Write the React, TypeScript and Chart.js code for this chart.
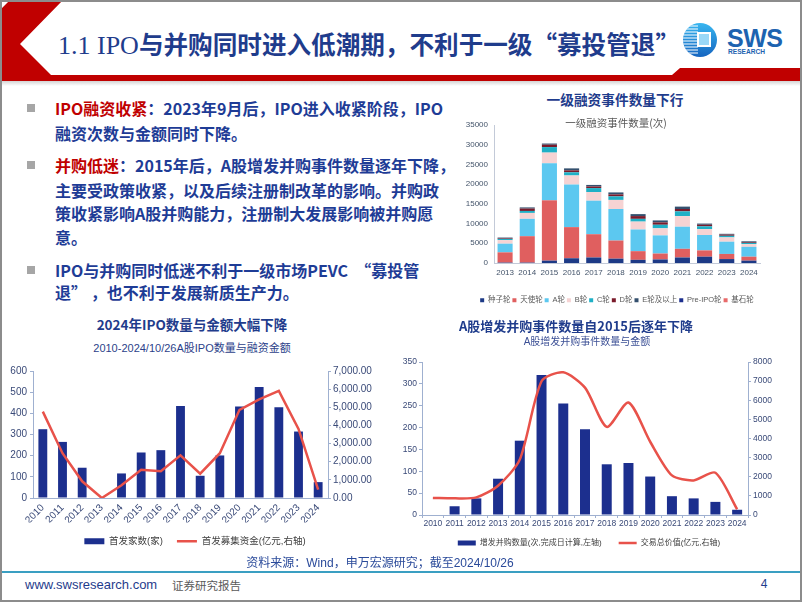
import React, { useEffect, useRef } from 'react';
import { Chart, registerables } from 'chart.js';

Chart.register(...registerables);

const SANS = "'Liberation Sans', 'Noto Sans CJK SC', sans-serif";
const CJK = "'Noto Sans CJK SC', 'Liberation Sans', sans-serif";
const NAVY = '#1c2f8e';
const RED_LINE = '#e8524a';
const TEXT_BLUE = '#1f3c8c';
const AXIS = '#9fb0d0';

// ---------- Chart 1: 一级融资事件数量(次) ----------
const vcYears = ['2013', '2014', '2015', '2016', '2017', '2018', '2019', '2020', '2021', '2022', '2023', '2024'];
const seedRound = [100, 100, 600, 1200, 1400, 1100, 800, 900, 1400, 1600, 1000, 600];
const angelRound = [2600, 6700, 15300, 7900, 5900, 4600, 2200, 1500, 2200, 1600, 1300, 1000];
const roundA = [2200, 4400, 9400, 10800, 8500, 8000, 5500, 4600, 5600, 3900, 3100, 2500];
const roundB = [900, 1500, 2700, 2300, 2200, 2300, 2000, 1800, 2700, 1500, 1100, 700];
const roundC = [300, 500, 1400, 800, 1000, 900, 700, 900, 1200, 700, 400, 300];
const roundD = [150, 600, 600, 500, 400, 500, 700, 600, 600, 400, 300, 200];
const roundE = [200, 300, 300, 500, 400, 500, 500, 500, 600, 300, 200, 200];
const preIpoRound = [0, 0, 0, 0, 0, 0, 0, 0, 0, 0, 0, 0];
const cornerstoneRound = [0, 0, 0, 0, 0, 0, 0, 0, 0, 0, 0, 0];
const vcLabels = ['种子轮', '天使轮', 'A轮', 'B轮', 'C轮', 'D轮', 'E轮及以上', 'Pre-IPO轮', '基石轮'];
const vcColors = ['#1d3a86', '#e05f5f', '#5cc8f0', '#f6d3d3', '#1fb0c6', '#7a1b2b', '#34506e', '#1c2f8e', '#e86a6a'];

// ---------- Chart 2: A股IPO数量与融资金额 ----------
const ipoYears = ['2010', '2011', '2012', '2013', '2014', '2015', '2016', '2017', '2018', '2019', '2020', '2021', '2022', '2023', '2024'];
const ipoCount = [325, 265, 143, 0, 116, 215, 226, 435, 105, 201, 432, 525, 429, 314, 75];
const ipoAmount = [4760, 2470, 920, 0, 700, 1560, 1470, 2350, 1340, 2470, 4860, 5440, 5900, 3810, 460];

// ---------- Chart 3: A股增发并购事件数量与金额 ----------
const maYears = ['2010', '2011', '2012', '2013', '2014', '2015', '2016', '2017', '2018', '2019', '2020', '2021', '2022', '2023', '2024'];
const maCount = [0, 20, 38, 83, 170, 320, 255, 196, 116, 119, 88, 43, 38, 30, 12];
const maValue = [890, 870, 920, 1530, 2900, 6990, 7460, 6660, 4610, 5880, 3830, 2070, 1810, 2210, 300];

const vcSeries = [seedRound, angelRound, roundA, roundB, roundC, roundD, roundE, preIpoRound, cornerstoneRound];

function makeComboLegend(extraGap: string) {
  return (chart: any) => {
    const items = (Chart.defaults as any).plugins.legend.labels.generateLabels(chart);
    items.forEach((it: any) => {
      const ds = chart.data.datasets[it.datasetIndex];
      it.pointStyle = ds.type === 'line' ? 'line' : 'rect';
      if (ds.type !== 'line') it.text = it.text + extraGap;
    });
    return items.sort((a: any, b: any) => a.datasetIndex - b.datasetIndex);
  };
}

const vcConfig = (): any => ({
  type: 'bar',
  data: {
    labels: vcYears,
    datasets: vcSeries.map((d, i) => ({
      label: vcLabels[i],
      data: d,
      backgroundColor: vcColors[i],
      borderWidth: 0,
      categoryPercentage: 1,
      barPercentage: 0.68,
    })),
  },
  options: {
    animation: false,
    responsive: false,
    maintainAspectRatio: false,
    layout: { padding: { left: 0, right: 19, top: 15, bottom: 0 } },
    plugins: {
      legend: {
        position: 'bottom',
        labels: { boxWidth: 4, boxHeight: 4, padding: 2, color: '#595959', font: { size: 7.5, family: SANS } },
      },
      tooltip: { enabled: false },
    },
    scales: {
      x: {
        stacked: true,
        grid: { display: false, drawTicks: false },
        border: { display: true, color: '#c3cad8' },
        ticks: { color: '#44546a', font: { size: 8, family: SANS }, padding: 5, maxRotation: 0, autoSkip: false },
        afterFit: (s: any) => { s.height = 31.5; },
      },
      y: {
        stacked: true,
        min: 0,
        max: 35000,
        grid: { display: false, drawTicks: false },
        border: { display: true, color: '#c3cad8' },
        ticks: { stepSize: 5000, color: '#44546a', font: { size: 8, family: SANS }, padding: 6, callback: (v: any) => String(v) },
        afterFit: (s: any) => { s.width = 36; },
      },
      yPad: {
        position: 'right',
        display: true,
        grid: { display: false, drawTicks: false },
        border: { display: false },
        ticks: { display: false },
        afterFit: (s: any) => { s.width = 16; },
      },
    },
  },
});

const ipoConfig = (): any => ({
  type: 'bar',
  data: {
    labels: ipoYears,
    datasets: [
      {
        type: 'bar', label: '首发家数(家)', data: ipoCount, backgroundColor: NAVY, borderWidth: 0,
        yAxisID: 'y', order: 1, categoryPercentage: 1, barPercentage: 0.45,
      },
      {
        type: 'line', label: '首发募集资金(亿元,右轴)', data: ipoAmount, borderColor: RED_LINE,
        backgroundColor: RED_LINE, borderWidth: 2.5, pointRadius: 0, tension: 0, yAxisID: 'y1', order: 0,
      },
    ],
  },
  options: {
    animation: false,
    responsive: false,
    maintainAspectRatio: false,
    layout: { padding: { left: 0, right: 10, top: 16, bottom: 0 } },
    plugins: {
      legend: {
        position: 'bottom',
        labels: {
          usePointStyle: true, pointStyleWidth: 20, boxWidth: 20, boxHeight: 6, padding: 14,
          color: '#404040', font: { size: 9.5, family: SANS }, generateLabels: makeComboLegend(''),
        },
      },
      tooltip: { enabled: false },
    },
    scales: {
      x: {
        grid: { display: false, drawTicks: false },
        border: { color: AXIS },
        ticks: { minRotation: 45, maxRotation: 45, autoSkip: false, color: '#3a4a78', font: { size: 10, family: SANS }, padding: 4 },
        afterFit: (s: any) => { s.height = 24.5; },
      },
      y: {
        min: 0, max: 600,
        ticks: { stepSize: 100, color: '#3a4a78', font: { size: 10, family: SANS }, padding: 3 },
        grid: { drawOnChartArea: false, tickLength: 3, color: AXIS },
        border: { color: AXIS },
        afterFit: (s: any) => { s.width = 33; },
      },
      y1: {
        position: 'right', min: 0, max: 7000,
        ticks: {
          stepSize: 1000, color: '#3a4a78', font: { size: 10, family: SANS }, padding: 2,
          callback: (v: any) => Number(v).toLocaleString('en-US', { minimumFractionDigits: 2, maximumFractionDigits: 2 }),
        },
        grid: { drawOnChartArea: false, tickLength: 3, color: AXIS },
        border: { color: AXIS },
        afterFit: (s: any) => { s.width = 62; },
      },
    },
  },
});

const maConfig = (): any => ({
  type: 'bar',
  data: {
    labels: maYears,
    datasets: [
      {
        type: 'bar', label: '增发并购数量(次,完成日计算,左轴)', data: maCount, backgroundColor: NAVY, borderWidth: 0,
        yAxisID: 'y', order: 1, categoryPercentage: 1, barPercentage: 0.46,
      },
      {
        type: 'line', label: '交易总价值(亿元,右轴)', data: maValue, borderColor: RED_LINE,
        backgroundColor: RED_LINE, borderWidth: 2.5, pointRadius: 0, tension: 0.25, yAxisID: 'y1', order: 0,
      },
    ],
  },
  options: {
    animation: false,
    responsive: false,
    maintainAspectRatio: false,
    layout: { padding: { left: 0, right: 20, top: 12, bottom: 0 } },
    plugins: {
      legend: {
        position: 'bottom',
        labels: {
          usePointStyle: true, pointStyleWidth: 18, boxWidth: 18, boxHeight: 5, padding: 6,
          color: '#404040', font: { size: 8, family: SANS }, generateLabels: makeComboLegend('     '),
        },
      },
      tooltip: { enabled: false },
    },
    scales: {
      x: {
        grid: { display: true, drawOnChartArea: false, tickLength: 3, color: AXIS },
        border: { color: AXIS },
        ticks: { maxRotation: 0, autoSkip: false, color: '#3a4a78', font: { size: 8.5, family: SANS }, padding: 1 },
        afterFit: (s: any) => { s.height = 18; },
      },
      y: {
        min: 0, max: 350,
        ticks: { stepSize: 50, color: '#3a4a78', font: { size: 8.5, family: SANS }, padding: 2 },
        grid: { drawOnChartArea: false, tickLength: 3, color: AXIS },
        border: { color: AXIS },
        afterFit: (s: any) => { s.width = 24; },
      },
      y1: {
        position: 'right', min: 0, max: 8000,
        ticks: { stepSize: 1000, color: '#3a4a78', font: { size: 8.5, family: SANS }, padding: 2, callback: (v: any) => String(v) },
        grid: { drawOnChartArea: false, tickLength: 3, color: AXIS },
        border: { color: AXIS },
        afterFit: (s: any) => { s.width = 32; },
      },
    },
  },
});

function ChartCanvas({ x, y, w, h, make }: { x: number; y: number; w: number; h: number; make: () => any }) {
  const ref = useRef<HTMLCanvasElement | null>(null);
  useEffect(() => {
    if (!ref.current) return;
    const c = new Chart(ref.current, make());
    return () => c.destroy();
  }, [make]);
  return <canvas ref={ref} width={w} height={h} style={{ position: 'absolute', left: x, top: y, width: w, height: h }} />;
}

function Label({ cx, cy, children, style }: { cx: number; cy: number; children: any; style?: any }) {
  return (
    <div style={{ position: 'absolute', left: cx, top: cy, transform: 'translate(-50%, -50%)', whiteSpace: 'nowrap', lineHeight: 1, ...style }}>
      {children}
    </div>
  );
}

const bulletLines: { y: number; red?: string; text: string }[] = [
  { y: 108, red: 'IPO融资收紧', text: '：2023年9月后，IPO进入收紧阶段，IPO' },
  { y: 133, text: '融资次数与金额同时下降。' },
  { y: 165, red: '并购低迷', text: '：2015年后，A股增发并购事件数量逐年下降，' },
  { y: 190, text: '主要受政策收紧，以及后续注册制改革的影响。并购政' },
  { y: 213, text: '策收紧影响A股并购能力，注册制大发展影响被并购愿' },
  { y: 237, text: '意。' },
  { y: 270, text: 'IPO与并购同时低迷不利于一级市场PEVC  “募投管' },
  { y: 292, text: '退” ，也不利于发展新质生产力。' },
];
const bulletMarks = [108, 165, 270];

export default function App() {
  useEffect(() => {
    document.documentElement.style.overflow = 'hidden';
  }, []);
  return (
    <div style={{ position: 'absolute', left: 0, top: 0, width: 802, height: 602, background: '#fff', overflow: 'hidden' }}>
      {/* header graphics */}
      <svg width={802} height={90} style={{ position: 'absolute', left: 0, top: 0 }}>
        <defs>
          <linearGradient id="hdrShadow" x1="0" y1="0" x2="0" y2="1">
            <stop offset="0" stopColor="#d4d4d4" />
            <stop offset="1" stopColor="#ffffff" />
          </linearGradient>
        </defs>
        <polygon points="10,0 63,0 20,44 52,76 0,76 0,10" fill="#c00000" />
        <polygon points="0,75 672,75 680,68 802,68 802,81 0,81" fill="#c00000" />
        <rect x={0} y={81} width={802} height={5} fill="url(#hdrShadow)" />
      </svg>
      <div style={{ position: 'absolute', left: 58, top: 28, height: 30, lineHeight: '30px', whiteSpace: 'nowrap', color: TEXT_BLUE }}>
        <span style={{ fontFamily: "'Liberation Serif', serif", fontSize: 26 }}>1.1 IPO</span>
        <span style={{ fontFamily: CJK, fontWeight: 700, fontSize: 24.6 }}>与并购同时进入低潮期，不利于一级“募投管退”</span>
      </div>
      {/* logo */}
      <svg width={115} height={45} style={{ position: 'absolute', left: 680, top: 18 }}>
        <defs>
          <linearGradient id="logoG" x1="0" y1="0" x2="0" y2="1">
            <stop offset="0" stopColor="#38b6f0" />
            <stop offset="1" stopColor="#1565c0" />
          </linearGradient>
          <clipPath id="logoC">
            <circle cx={20} cy={22} r={17} />
          </clipPath>
        </defs>
        <circle cx={20} cy={22} r={17} fill="url(#logoG)" />
        <g clipPath="url(#logoC)" stroke="#ffffff" strokeWidth={1.2}>
          {[8, 11, 14, 17, 20, 23, 26, 29, 32, 35].map((yy) => (
            <line key={yy} x1={2} x2={18} y1={yy} y2={yy} />
          ))}
        </g>
        <rect x={17} y={14} width={14} height={15} fill="#ffffff" />
        <rect x={19} y={16} width={10} height={11} fill="#9ad8f7" />
        <text x={47} y={29} fontFamily="'Liberation Sans', sans-serif" fontWeight="bold" fontSize={25} letterSpacing={-0.5} fill="#1d63b0">SWS</text>
        <text x={48} y={35.5} fontFamily="'Liberation Sans', sans-serif" fontWeight="bold" fontSize={6.6} fill="#1d63b0">RESEARCH</text>
      </svg>

      {/* bullets */}
      {bulletMarks.map((y) => (
        <div key={y} style={{ position: 'absolute', left: 27, top: y - 4, width: 8, height: 8, background: '#a6a6a6' }} />
      ))}
      {bulletLines.map((l, i) => (
        <div key={i} style={{ position: 'absolute', left: 55, top: l.y - 12, height: 24, lineHeight: '24px', whiteSpace: 'pre', fontFamily: CJK, fontWeight: 700, fontSize: 16, color: '#1e3c96' }}>
          {l.red ? <span style={{ color: '#c00000' }}>{l.red}</span> : null}
          {l.text}
        </div>
      ))}

      {/* charts */}
      <ChartCanvas x={458} y={110} w={337} h={204} make={vcConfig} />
      <ChartCanvas x={0} y={355} w={400} h={201} make={ipoConfig} />
      <ChartCanvas x={398} y={350} w={402} h={207} make={maConfig} />

      {/* chart titles */}
      <Label cx={615} cy={100} style={{ fontFamily: CJK, fontWeight: 700, fontSize: 13.7, color: TEXT_BLUE }}>一级融资事件数量下行</Label>
      <Label cx={616} cy={123} style={{ fontFamily: CJK, fontSize: 10.5, color: '#595959' }}>一级融资事件数量(次)</Label>
      <Label cx={192} cy={325} style={{ fontFamily: CJK, fontWeight: 700, fontSize: 13.5, color: TEXT_BLUE }}>2024年IPO数量与金额大幅下降</Label>
      <Label cx={192} cy={348} style={{ fontFamily: SANS, fontSize: 11, color: '#2c3f8a' }}>2010-2024/10/26A股IPO数量与融资金额</Label>
      <Label cx={576} cy={325} style={{ fontFamily: CJK, fontWeight: 700, fontSize: 13, color: TEXT_BLUE }}>A股增发并购事件数量自2015后逐年下降</Label>
      <Label cx={587} cy={342} style={{ fontFamily: SANS, fontSize: 10, color: '#3b4f95' }}>A股增发并购事件数量与金额</Label>

      {/* footer */}
      <Label cx={380} cy={563} style={{ fontFamily: SANS, fontSize: 12, color: '#2a4a9a' }}>资料来源：Wind，申万宏源研究；截至2024/10/26</Label>
      <div style={{ position: 'absolute', left: 0, top: 571, width: 802, height: 2, background: '#3a9fc2' }} />
      <div style={{ position: 'absolute', left: 25, top: 577, height: 16, lineHeight: '16px', whiteSpace: 'nowrap', fontFamily: SANS, fontSize: 13, color: TEXT_BLUE }}>www.swsresearch.com</div>
      <div style={{ position: 'absolute', left: 172, top: 577, height: 16, lineHeight: '16px', whiteSpace: 'nowrap', fontFamily: CJK, fontSize: 11.5, color: '#595959' }}>证券研究报告</div>
      <Label cx={764} cy={584} style={{ fontFamily: SANS, fontSize: 12, color: TEXT_BLUE }}>4</Label>

      {/* slide border */}
      <div style={{ position: 'absolute', left: 0, top: 0, width: 802, height: 602, boxSizing: 'border-box', border: '2px solid #8c8c8c', pointerEvents: 'none' }} />
    </div>
  );
}
